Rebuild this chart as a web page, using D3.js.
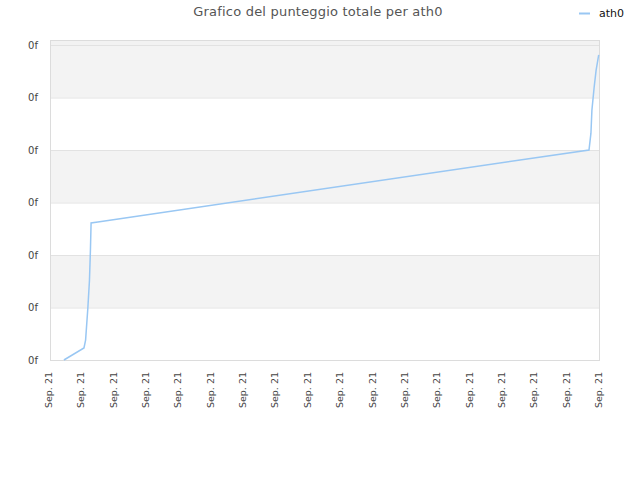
<!DOCTYPE html>
<html>
<head>
<meta charset="utf-8">
<script src="https://cdn.jsdelivr.net/npm/d3@7"></script>
<style>
body { margin: 0; background: #fff; }
svg { display: block; font-family: "DejaVu Sans", sans-serif; }
</style>
</head>
<body>
<svg id="chart" width="640" height="480"></svg>
<script>
const title = "Grafico del punteggio totale per ath0";
const seriesName = "ath0";
const xTicks = d3.range(0, 18);
const xTickLabel = "Sep. 21";
const yTicks = [0, 1, 2, 3, 4, 5, 6];
const yTickLabel = "0f";
const xValues = [0.43, 1.05, 1.10, 1.17, 1.22, 1.25, 1.27, 1.48, 16.66, 16.72, 16.75, 16.82, 16.88, 16.96];
const yValues = [0, 0.23, 0.38, 0.99, 1.52, 2.10, 2.61, 2.63, 4.0, 4.32, 4.76, 5.2, 5.52, 5.81];

const svg = d3.select("#chart");
const L = 50, R = 600, T = 40, B = 360;
const x = d3.scaleLinear().domain([0, 17]).range([L, R]);
const y = d3.scaleLinear().domain([0, 6]).range([B, 45]);

// bands
const bands = svg.append("g");
bands.append("rect").attr("x", L).attr("y", T).attr("width", R - L).attr("height", y(6) - T).attr("fill", "#f2f2f2");
for (let i = 0; i < yTicks.length - 1; i++) {
  const v0 = yTicks[i], v1 = yTicks[i + 1];
  if (i % 2 === 1) {
    bands.append("rect").attr("x", L).attr("y", y(v1)).attr("width", R - L)
      .attr("height", y(v0) - y(v1)).attr("fill", "#f3f3f3");
  }
}
// grid lines
svg.append("g").selectAll("line").data(yTicks).join("line")
  .attr("x1", L).attr("x2", R).attr("y1", d => y(d) + 0.5).attr("y2", d => y(d) + 0.5)
  .attr("stroke", "#e2e2e2").attr("stroke-width", 1);
// frame
svg.append("rect").attr("x", L + 0.5).attr("y", T + 0.5).attr("width", R - L - 1).attr("height", B - T)
  .attr("fill", "none").attr("stroke", "#dcdcdc");

// y labels
svg.append("g").selectAll("text").data(yTicks).join("text")
  .attr("x", 38).attr("y", d => y(d)).attr("dy", "0.35em").attr("text-anchor", "end")
  .attr("font-size", 10).attr("fill", "#444").text(yTickLabel);

// x labels
svg.append("g").selectAll("text").data(xTicks).join("text")
  .attr("transform", d => `translate(${x(d) + 2},372) rotate(-90)`)
  .attr("text-anchor", "end").attr("font-size", 9.5).attr("fill", "#444").text(xTickLabel);

// line
const line = d3.line().x((d, i) => x(xValues[i])).y(d => y(d));
svg.append("path").datum(yValues).attr("d", line)
  .attr("fill", "none").attr("stroke", "#99c7f3").attr("stroke-width", 1.5);

// title
svg.append("text").attr("x", 318).attr("y", 16).attr("text-anchor", "middle")
  .attr("font-size", 13).attr("letter-spacing", 0.2).attr("fill", "#555").text(title);

// legend
svg.append("line").attr("x1", 579).attr("x2", 590).attr("y1", 13.5).attr("y2", 13.5)
  .attr("stroke", "#99c7f3").attr("stroke-width", 2);
svg.append("text").attr("x", 599).attr("y", 13).attr("dy", "0.35em")
  .attr("font-size", 11).attr("fill", "#111").text(seriesName);
</script>
</body>
</html>
